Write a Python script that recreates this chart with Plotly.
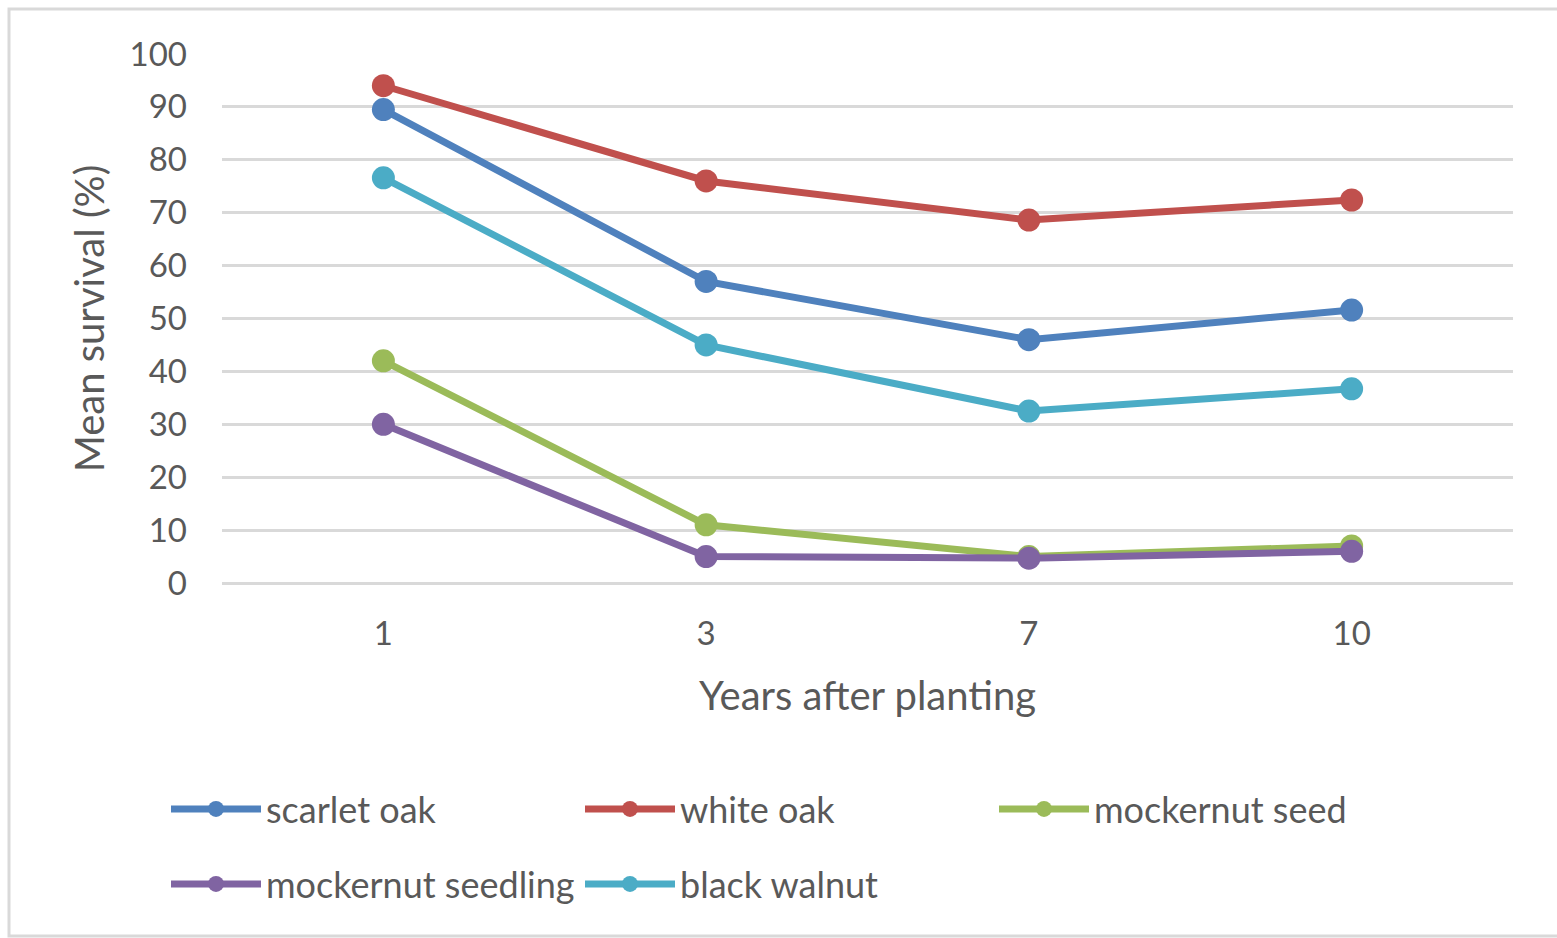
import plotly.graph_objects as go

# Survival by years after planting
years = ["1", "3", "7", "10"]
scarlet_oak = [89.5, 57, 46, 51.6]
white_oak = [94, 76, 68.6, 72.4]
mockernut_seed = [42, 11, 5, 7]
mockernut_seedling = [30, 5, 4.7, 6]
black_walnut = [76.6, 45, 32.5, 36.7]

series = [
    ("scarlet oak", scarlet_oak, "#4F81BD", "legend"),
    ("white oak", white_oak, "#C0504D", "legend"),
    ("mockernut seed", mockernut_seed, "#9BBB59", "legend"),
    ("mockernut seedling", mockernut_seedling, "#8064A2", "legend2"),
    ("black walnut", black_walnut, "#4BACC6", "legend2"),
]

FONT = "Lato"
TXT = "#595959"
GRID = "#D9D9D9"

fig = go.Figure()
for name, vals, color, leg in series:
    fig.add_trace(go.Scatter(
        x=years, y=vals, name=name, mode="lines+markers",
        line=dict(color=color, width=7),
        marker=dict(color=color, size=23),
        legend=leg,
    ))

W, H = 1557, 938
L, R, T, B = 222, 44, 54, 355
pw = W - L - R
ph = H - T - B

legend_common = dict(
    orientation="h", xanchor="left", yanchor="middle",
    font=dict(family=FONT, size=36, color=TXT),
    entrywidth=309, entrywidthmode="pixels",
    itemwidth=90, bgcolor="rgba(0,0,0,0)",
)

fig.update_layout(
    width=W, height=H,
    margin=dict(l=L, r=R, t=T, b=B),
    paper_bgcolor="white", plot_bgcolor="white",
    font=dict(family=FONT, size=33, color=TXT),
    xaxis=dict(
        type="category", range=[-0.5, 3.5],
        showgrid=False, showline=False, zeroline=False, ticks="",
        ticklabelstandoff=28,
        tickfont=dict(family=FONT, size=33, color=TXT),
        title=dict(text="Years after planting", standoff=30,
                   font=dict(family=FONT, size=40, color=TXT)),
    ),
    yaxis=dict(
        range=[0, 100], dtick=10,
        showgrid=True, gridcolor=GRID, gridwidth=3,
        zeroline=True, zerolinecolor=GRID, zerolinewidth=3,
        showline=False, ticks="",
        ticklabelstandoff=34,
        tickfont=dict(family=FONT, size=33, color=TXT),
        title=dict(text="Mean survival (%)", standoff=12,
                   font=dict(family=FONT, size=40, color=TXT)),
    ),
    legend=dict(x=(166 - L) / pw, y=1 - (809 - T) / ph, **legend_common),
    legend2=dict(x=(166 - L) / pw, y=1 - (884 - T) / ph, **legend_common),
    shapes=[dict(type="rect", xref="paper", yref="paper",
                 x0=-(L - 9) / pw, x1=(W + 60 - L) / pw,
                 y0=1 + (T - 9) / ph, y1=-(936 - T - ph) / ph,
                 line=dict(color=GRID, width=3), layer="below")],
)

fig.write_html("out.html")
